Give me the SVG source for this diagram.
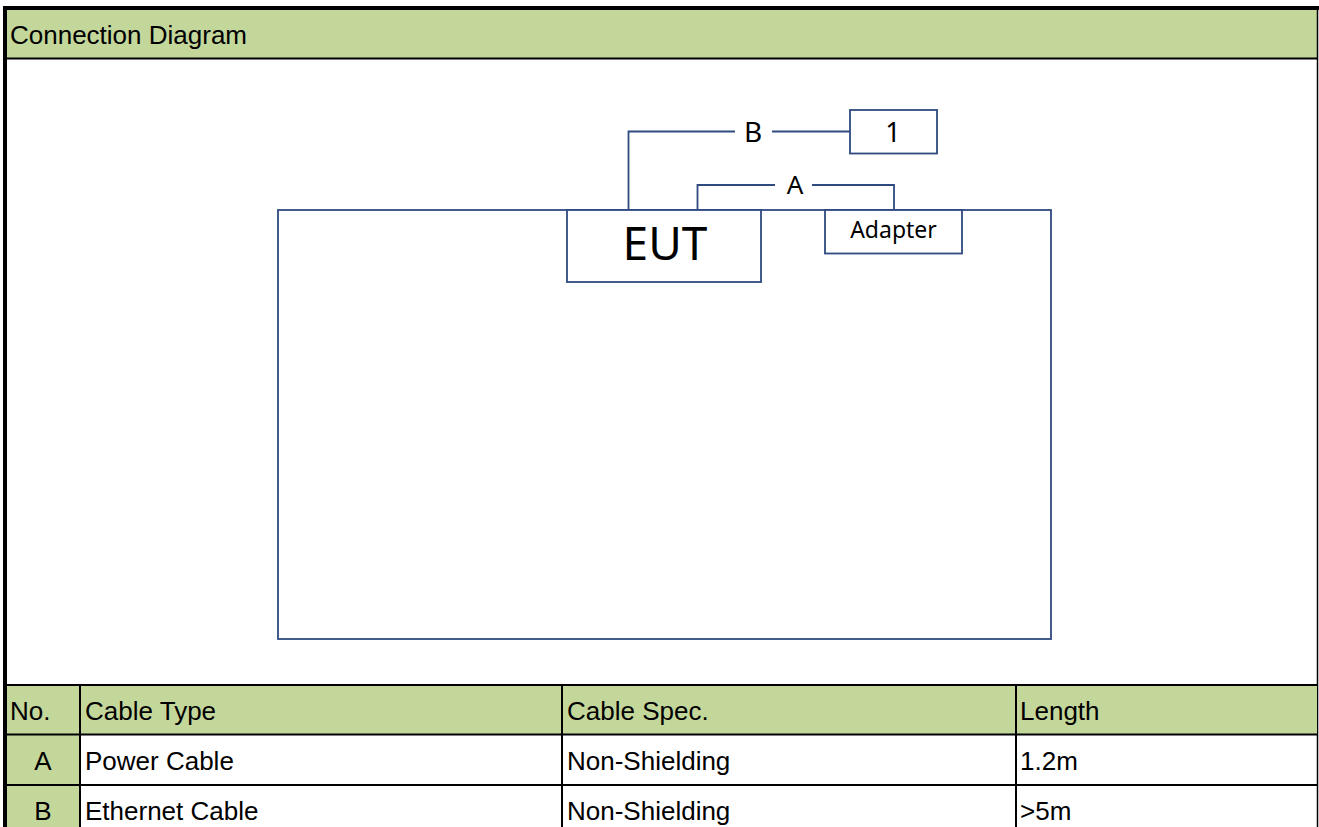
<svg xmlns="http://www.w3.org/2000/svg" width="1319" height="827" viewBox="0 0 1319 827">
<style>
.hdr{fill:#C4D79B}
.tl{stroke:#000;stroke-width:2;fill:none}
.tx{font-family:"Liberation Sans",Arial,sans-serif;font-size:26px;fill:#000}
.box{fill:#fff;stroke:#2F4A80;stroke-width:1.8}
.cn{fill:none;stroke:#2F4A80;stroke-width:1.8}
.lb{font-family:"Noto Sans","DejaVu Sans",sans-serif;fill:#000;text-anchor:middle}
</style>
<rect width="1319" height="827" fill="#fff"/>
<g id="frame">
<rect class="hdr" x="5" y="8" width="1313" height="50"/>
<rect x="3" y="6" width="1316" height="4" fill="#000"/>
<rect x="3" y="6" width="4" height="821" fill="#000"/>
<line class="tl" x1="5" y1="58.5" x2="1318" y2="58.5"/>
<line x1="1317.5" y1="6" x2="1317.5" y2="827" stroke="#000" stroke-width="1.5"/>
<text class="tx" x="10" y="44">Connection Diagram</text>
</g>
<g id="room">
<rect class="box" x="278" y="210" width="773" height="429"/>
</g>
<g id="connectors">
<polyline class="cn" points="628.5,210 628.5,131.5 735,131.5"/>
<line class="cn" x1="772" y1="131.5" x2="850" y2="131.5"/>
<text class="lb" x="753" y="142" font-size="28">B</text>
<polyline class="cn" points="697.5,210 697.5,185 775,185"/>
<polyline class="cn" points="812,185 894,185 894,210"/>
<text class="lb" x="795" y="193.5" font-size="26">A</text>
</g>
<g id="eut">
<rect class="box" x="567" y="210" width="194" height="72"/>
<text class="lb" x="665" y="260" font-size="46">EUT</text>
</g>
<g id="adapter">
<rect class="box" x="825" y="210" width="137" height="43.5"/>
<text class="lb" x="893.5" y="238" font-size="23">Adapter</text>
</g>
<g id="device1">
<rect class="box" x="850" y="110" width="87" height="43.5"/>
<text class="lb" x="893" y="142" font-size="27">1</text>
</g>
<g id="table">
<rect class="hdr" x="7" y="685" width="1310" height="49"/>
<rect class="hdr" x="7" y="734" width="73" height="93"/>
<line class="tl" x1="5" y1="685" x2="1318" y2="685"/>
<line class="tl" x1="5" y1="734.5" x2="1318" y2="734.5"/>
<line class="tl" x1="5" y1="785" x2="1318" y2="785"/>
<line class="tl" x1="80" y1="685" x2="80" y2="827"/>
<line class="tl" x1="562" y1="685" x2="562" y2="827"/>
<line class="tl" x1="1016" y1="685" x2="1016" y2="827"/>
<text class="tx" x="10" y="720">No.</text>
<text class="tx" x="85" y="720">Cable Type</text>
<text class="tx" x="567" y="720">Cable Spec.</text>
<text class="tx" x="1020" y="720">Length</text>
<text class="tx" x="43" y="770" text-anchor="middle">A</text>
<text class="tx" x="85" y="770">Power Cable</text>
<text class="tx" x="567" y="770">Non-Shielding</text>
<text class="tx" x="1020" y="770">1.2m</text>
<text class="tx" x="43" y="820" text-anchor="middle">B</text>
<text class="tx" x="85" y="820">Ethernet Cable</text>
<text class="tx" x="567" y="820">Non-Shielding</text>
<text class="tx" x="1020" y="820">&gt;5m</text>
</g>
</svg>
